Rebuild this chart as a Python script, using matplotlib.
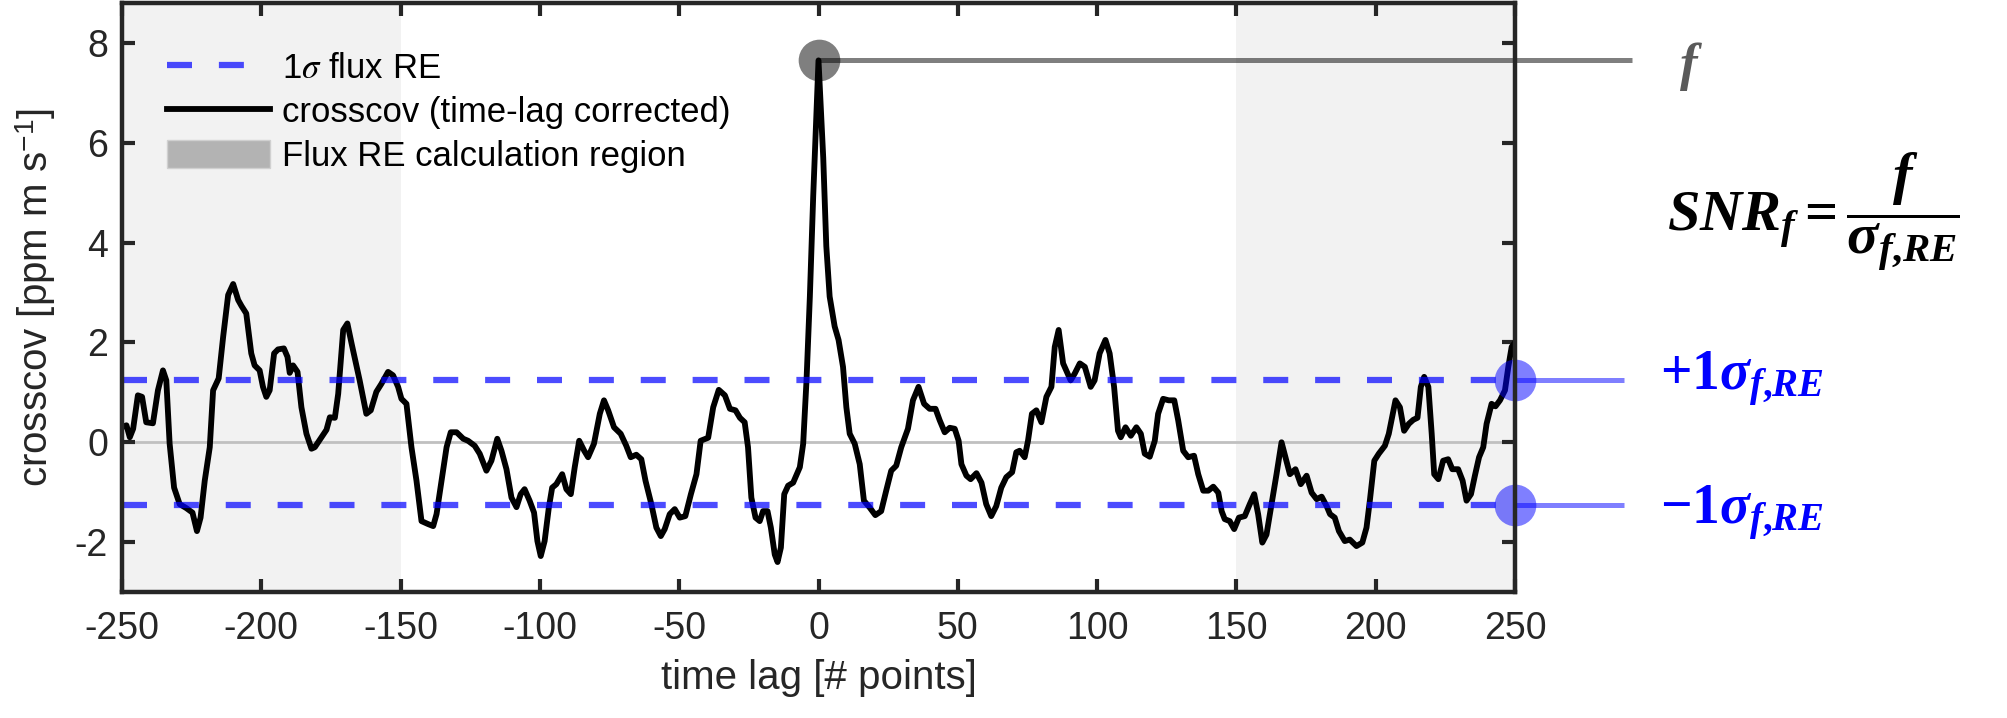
import numpy as np
import matplotlib
matplotlib.use("Agg")
import matplotlib.pyplot as plt
from matplotlib.lines import Line2D
from matplotlib.patches import Patch

plt.rcParams['font.family'] = ['Liberation Sans', 'DejaVu Sans']
plt.rcParams['axes.unicode_minus'] = False
plt.rcParams['mathtext.fontset'] = 'custom'
plt.rcParams['mathtext.it'] = 'Liberation Serif:italic:bold'
plt.rcParams['mathtext.rm'] = 'Liberation Serif:bold'
plt.rcParams['mathtext.bf'] = 'Liberation Serif:italic:bold'

# --- data ---
LAG = [-250, -248.4, -247.2, -246, -244.3, -242.8, -241.3, -238.9, -237.1, -235.3, -234.1,
       -232.9, -231.3, -229.3, -226.9, -224.7, -223.1, -221.8, -220.3, -218.5, -217.3,
       -215.3, -213.7, -211.9, -210.1, -208.3, -207.1, -205.4, -203.6, -202.4, -200.6,
       -199.4, -198.2, -197.0, -195.4, -194.0, -191.9, -190.6, -189.8, -188.6, -187.0,
       -185.6, -183.8, -182.0, -180.8, -178.4, -176.6, -175.4, -173.6, -172.4, -170.6,
       -169.1, -167.6, -164.7, -162.3, -160.7, -158.7, -156.9, -154.5, -152.7, -150.9,
       -149.7, -147.9, -146.1, -144.3, -142.5, -140.1, -138.3, -137.1, -135.3, -133.5,
       -132.0, -129.9, -127.5, -125.8, -123.4, -121.6, -119.2, -117.4, -115.3, -113.8,
       -112.0, -110.2, -108.4, -106.9, -105.5, -103.7, -102.1, -100.9, -99.7, -98.3,
       -96.8, -95.6, -94.1, -92.0, -90.5, -88.9, -87.5, -85.9, -84.1, -82.7, -80.6,
       -78.5, -77.0, -75.5, -73.4, -71.0, -69.0, -67.4, -65.4, -63.6, -62.1, -60.0,
       -58.2, -56.6, -55.2, -53.4, -51.6, -49.8, -47.8, -45.8, -43.8, -42.3, -39.6,
       -37.8, -35.8, -33.6, -31.8, -29.8, -28.2, -26.5, -25.3, -24.1, -22.6, -21.1,
       -19.9, -18.3, -17.1, -15.7, -14.7, -13.5, -12.3, -10.9, -9.1, -6.7, -5.5, -4.3,
       -3.1, -1.9, 0, 1.7, 2.8, 4.0, 5.8, 7.2, 8.8, 10.0, 11.2, 13.0, 14.8, 16.3, 18.4,
       20.4, 22.5, 24.3, 26.1, 27.9, 29.7, 32.1, 33.9, 35.9, 37.9, 39.9, 42.0, 43.5,
       45.3, 47.1, 48.9, 50.3, 51.3, 53.1, 54.6, 56.7, 58.5, 60.2, 62.0, 63.8, 65.6,
       67.4, 69.5, 71.0, 72.2, 74.0, 75.2, 76.6, 78.2, 80.0, 81.8, 83.6, 84.8, 86.2,
       87.8, 90.5, 92.0, 93.8, 95.6, 97.7, 99.1, 100.9, 103.0, 104.5, 106.1, 107.5,
       108.5, 110.2, 112.1, 114.1, 115.7, 117.1, 118.9, 120.7, 121.9, 123.7, 125.7,
       127.7, 129.1, 130.9, 132.7, 134.8, 136.3, 138.1, 139.9, 141.7, 143.5, 144.7,
       145.8, 147.6, 149.2, 150.9, 153.0, 154.8, 156.4, 157.8, 159.3, 160.8, 162.6,
       164.4, 166.2, 167.6, 169.2, 171.2, 173.1, 175.2, 177.0, 178.8, 180.6, 182.4,
       183.6, 185.3, 186.8, 188.9, 190.7, 193.1, 195.2, 196.7, 197.9, 199.5, 201.1,
       203.3, 204.7, 205.9, 207.1, 208.7, 210.2, 211.9, 213.5, 215.0, 216.2, 217.4,
       218.9, 220.1, 221.0, 222.5, 224.2, 226.0, 227.5, 229.6, 231.2, 232.6, 234.2,
       235.6, 237.1, 238.6, 239.8, 241.6, 243.0, 244.6, 246.4, 247.6, 248.8, 250]
CROSSCOV = [0.30, 0.34, 0.10, 0.27, 0.94, 0.91, 0.40, 0.38, 1.04, 1.44, 1.24,
            -0.03, -0.91, -1.24, -1.32, -1.41, -1.78, -1.51, -0.77, -0.10, 1.04,
            1.28, 2.11, 2.95, 3.17, 2.85, 2.73, 2.58, 1.78, 1.54, 1.44,
            1.11, 0.91, 1.04, 1.78, 1.86, 1.88, 1.71, 1.39, 1.54, 1.41,
            0.70, 0.17, -0.13, -0.10, 0.10, 0.25, 0.50, 0.49, 0.97, 2.25,
            2.38, 1.98, 1.24, 0.57, 0.64, 1.01, 1.17, 1.41, 1.34, 1.11,
            0.87, 0.77, -0.10, -0.77, -1.58, -1.64, -1.68, -1.44, -0.77, -0.10,
            0.20, 0.20, 0.07, 0.03, -0.07, -0.23, -0.57, -0.37, 0.07, -0.17,
            -0.54, -1.11, -1.30, -1.04, -0.94, -1.17, -1.41, -1.98, -2.28, -1.98,
            -1.31, -0.91, -0.84, -0.64, -0.94, -1.04, -0.50, 0.03, -0.17, -0.30, -0.03,
            0.57, 0.84, 0.64, 0.30, 0.17, -0.07, -0.30, -0.25, -0.34, -0.77, -1.24,
            -1.71, -1.88, -1.74, -1.44, -1.34, -1.51, -1.48, -1.04, -0.64, 0.03, 0.09,
            0.70, 1.05, 0.94, 0.67, 0.64, 0.49, 0.40, -0.10, -1.11, -1.51, -1.58,
            -1.38, -1.38, -1.71, -2.25, -2.40, -2.11, -1.04, -0.87, -0.81, -0.50, -0.03, 1.24,
            2.92, 4.93, 7.65, 5.7, 3.93, 2.92, 2.32, 2.05, 1.51, 0.70, 0.17, -0.03, -0.44, -1.17, -1.31,
            -1.46, -1.38, -0.97, -0.57, -0.47, -0.10, 0.27, 0.84, 1.11, 0.77, 0.67, 0.67, 0.44,
            0.20, 0.29, 0.27, 0.03, -0.44, -0.67, -0.74, -0.62, -0.81, -1.24, -1.48, -1.28, -0.91,
            -0.70, -0.60, -0.20, -0.17, -0.30, 0.03, 0.57, 0.64, 0.40, 0.91, 1.11, 1.91, 2.25,
            1.58, 1.24, 1.38, 1.58, 1.51, 1.11, 1.24, 1.78, 2.05, 1.78, 1.11, 0.23,
            0.10, 0.30, 0.13, 0.30, 0.17, -0.23, -0.29, 0.03, 0.57, 0.87, 0.84,
            0.84, 0.44, -0.17, -0.30, -0.27, -0.64, -0.97, -0.97, -0.89, -1.01, -1.38,
            -1.54, -1.58, -1.74, -1.51, -1.48, -1.24, -1.04, -1.44, -2.01, -1.85, -1.24,
            -0.64, 0.00, -0.30, -0.64, -0.54, -0.84, -0.67, -1.01, -1.14, -1.09, -1.28,
            -1.44, -1.51, -1.78, -1.98, -1.95, -2.08, -2.01, -1.71, -1.17, -0.37, -0.23,
            -0.07, 0.17, 0.50, 0.84, 0.70, 0.23, 0.37, 0.45, 0.49, 1.11, 1.31,
            1.11, 0.17, -0.64, -0.74, -0.37, -0.34, -0.54, -0.54, -0.77, -1.17, -1.04,
            -0.67, -0.30, -0.10, 0.37, 0.77, 0.72, 0.84, 1.04, 1.51, 1.91, 2.00]

SIGMA_RE = 1.25
PEAK_LAG = 0
PEAK_VAL = 7.65
RE_REGIONS = [(-250, -150), (150, 250)]
X_TICKS = [-250, -200, -150, -100, -50, 0, 50, 100, 150, 200, 250]
Y_TICKS = [-2, 0, 2, 4, 6, 8]

W, H = 2008, 718
fig = plt.figure(figsize=(W / 100, H / 100), dpi=100)
ax = fig.add_axes([122 / W, 1 - 592 / H, (1515 - 122) / W, (592 - 3) / H])

for x0, x1 in RE_REGIONS:
    ax.axvspan(x0, x1, color='#f2f2f2', lw=0, zorder=0)
ax.axhline(0, color='#c0c0c0', lw=2, zorder=1)

ax.plot(LAG, CROSSCOV, color='black', lw=4.2, zorder=3, solid_joinstyle='round')
DASH = (4.0, 4.3)
for s in (SIGMA_RE, -SIGMA_RE):
    ax.plot([-250, 250], [s, s], color=(0, 0, 1, 0.7), lw=4.5,
            dashes=DASH, zorder=4)

# annotation markers and leader lines
ax.plot([PEAK_LAG, 292], [PEAK_VAL, PEAK_VAL], color=(0, 0, 0, 0.5), lw=3.6,
        clip_on=False, zorder=2, solid_capstyle='butt')
ax.plot([PEAK_LAG], [PEAK_VAL], 'o', ms=30, color=(0, 0, 0, 0.5), mec='none',
        clip_on=False, zorder=2)
for s in (SIGMA_RE, -SIGMA_RE):
    ax.plot([250, 289], [s, s], color=(0, 0, 1, 0.5), lw=3.6, clip_on=False,
            zorder=5, solid_capstyle='butt')
    ax.plot([250], [s], 'o', ms=30, color=(0, 0, 1, 0.5), mec='none',
            clip_on=False, zorder=5)

ax.set_xlim(-250, 250)
ax.set_ylim(-3, 8.8)
ax.set_xticks(X_TICKS)
ax.set_yticks(Y_TICKS)
ax.tick_params(direction='in', length=9.5, width=3, colors='#262626',
               labelsize=27, top=True, right=True, pad=14)
ax.tick_params(axis='y', pad=10)
for sp in ax.spines.values():
    sp.set_linewidth(3.2)
    sp.set_color('#262626')
    sp.set_zorder(6)

ax.set_xlabel('time lag [# points]', fontsize=29, color='#262626', labelpad=8)
ax.set_ylabel(r'crosscov [ppm m s$^{\mathregular{-1}}$]', fontsize=29,
              color='#262626', labelpad=12)

handles = [Line2D([], [], color=(0, 0, 1, 0.7), lw=4.5, dashes=DASH),
           Line2D([], [], color='black', lw=4.2),
           Patch(facecolor='#b3b3b3', edgecolor='#d0d0d0')]
labels = [r'1$\sigma$ flux RE', 'crosscov (time-lag corrected)',
          'Flux RE calculation region']
leg = ax.legend(handles, labels, loc='upper left', frameon=False, fontsize=25,
                handlelength=2.95, handleheight=0.9, handletextpad=0.35,
                labelspacing=0.3, bbox_to_anchor=(0.01, 0.97))
leg.get_texts()[0].set_math_fontfamily('stix')

# right-hand annotations
fig.text(1691 / W, 1 - 80 / H, r'$f$', fontsize=38, color='#5a5a5a',
         ha='center', va='baseline')
fig.text(1667 / W, 1 - 232 / H, r'$SNR_f = \dfrac{f}{\sigma_{f{,}RE}}$',
         fontsize=42, color='black', ha='left', va='baseline')
fig.text(1660 / W, 1 - 390 / H, r'$+1\sigma_{f{,}RE}$', fontsize=40,
         color='#0000ff', ha='left', va='baseline')
fig.text(1660 / W, 1 - 524 / H, r'$-1\sigma_{f{,}RE}$', fontsize=40,
         color='#0000ff', ha='left', va='baseline')

fig.savefig('out.png', dpi=100)
